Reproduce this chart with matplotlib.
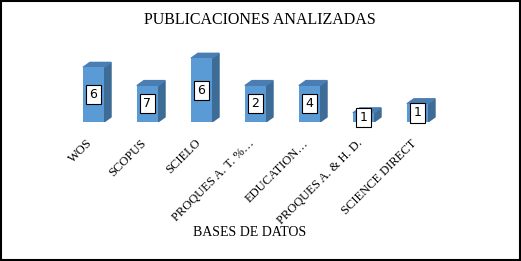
import matplotlib
matplotlib.use("Agg")
import matplotlib.pyplot as plt
from matplotlib.patches import Polygon, Rectangle

categorias = ["WOS", "SCOPUS", "SCIELO", "PROQUES A. T. %…", "EDUCATION…",
              "PROQUES A. & H. D.", "SCIENCE DIRECT"]
alturas = [6, 4, 7, 4, 4, 1, 2]
etiquetas = ["6", "7", "6", "2", "4", "1", "1"]

frente = "#5B9BD5"
lado = "#3D6C96"
tapa = "#4A7EB3"

fig = plt.figure(figsize=(5.21, 2.61), dpi=100)
ax = fig.add_axes([0.1276, 0.5326, 0.7255, 0.2789])
ax.set_xlim(-0.5, 6.5)
ax.set_ylim(0, 8)

ancho = 0.39
dx, dy = 0.13, 0.55  # profundidad 3D en unidades de datos
x = list(range(len(categorias)))
barras = ax.bar(x, alturas, width=ancho, color=frente, zorder=2)
for xi, h in zip(x, alturas):
    x0, x1 = xi - ancho / 2, xi + ancho / 2
    ax.add_patch(Polygon([(x1, 0), (x1 + dx, dy), (x1 + dx, h + dy), (x1, h)],
                         closed=True, color=lado, zorder=1))
    ax.add_patch(Polygon([(x0, h), (x1, h), (x1 + dx, h + dy), (x0 + dx, h + dy)],
                         closed=True, color=tapa, zorder=1))

for xi, h, t in zip(x, alturas, etiquetas):
    ax.text(xi, h / 2, t, ha="center", va="center", fontsize=9,
            family="DejaVu Sans", zorder=3,
            bbox=dict(boxstyle="square,pad=0.25", fc="white", ec="black", lw=0.8))

ax.set_xticks([xi - 0.05 for xi in x])
ax.set_xticklabels(categorias, rotation=45, ha="right", va="center",
                   rotation_mode="anchor", family="Liberation Serif", fontsize=9)
ax.tick_params(axis="x", length=0, pad=14)
ax.set_yticks([])
for s in ax.spines.values():
    s.set_visible(False)
ax.patch.set_alpha(0)

fig.text(0.498, 1 - 20 / 261, "PUBLICACIONES ANALIZADAS", ha="center", va="center",
         family="Liberation Serif", fontsize=11.5)
fig.text(0.479, 1 - 233 / 261, "BASES DE DATOS", ha="center", va="center",
         family="Liberation Serif", fontsize=10)

fig.patches.append(Rectangle((0.002, 0.004), 0.996, 0.992, transform=fig.transFigure,
                             fill=False, ec="black", lw=1.5))

fig.savefig("out.png", dpi=100)
